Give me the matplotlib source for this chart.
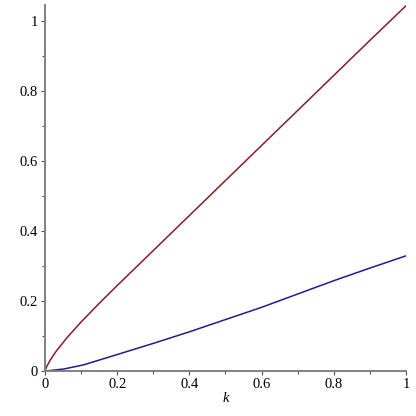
import numpy as np
import matplotlib
matplotlib.use('Agg')
import matplotlib.pyplot as plt
from matplotlib.ticker import MultipleLocator

# values
k_upper = [0.0, 0.005, 0.015, 0.03, 0.06, 0.1, 0.15, 0.2, 0.25,
           0.3, 0.4, 0.5, 0.6, 0.7, 0.8, 0.9, 1.0]
upper = [0.0, 0.013, 0.032, 0.055, 0.094, 0.140, 0.193, 0.244, 0.294,
         0.344, 0.444, 0.544, 0.644, 0.744, 0.844, 0.944, 1.043]

k_lower = [0.0, 0.053, 0.108, 0.19, 0.3, 0.4, 0.5, 0.6, 0.7, 0.8, 0.9, 1.0]
lower = [0.0, 0.006, 0.018, 0.044, 0.079, 0.112, 0.147, 0.182, 0.220, 0.258, 0.294, 0.329]

plt.rcParams['font.family'] = 'serif'
plt.rcParams['font.serif'] = ['Liberation Serif', 'Times New Roman', 'DejaVu Serif']

fig = plt.figure(figsize=(4.16, 4.16), dpi=100)
ax = fig.add_axes([0.108, 0.108, 0.868, 0.880])

ax.plot(k_upper, upper, color='#8c1c22', lw=1.1)
ax.plot(k_lower, lower, color='#1c1f8f', lw=1.1)

ax.set_xlim(0, 1)
ax.set_ylim(0, 1.045)

for s in ['top', 'right']:
    ax.spines[s].set_visible(False)
for s in ['left', 'bottom']:
    ax.spines[s].set_color('#808080')
    ax.spines[s].set_linewidth(1.4)

ax.xaxis.set_major_locator(MultipleLocator(0.2))
ax.xaxis.set_minor_locator(MultipleLocator(0.1))
ax.yaxis.set_major_locator(MultipleLocator(0.2))
ax.yaxis.set_minor_locator(MultipleLocator(0.1))
ax.tick_params(which='both', color='#505050', width=0.8, labelsize=10.5, pad=2)
ax.tick_params(which='major', length=3)
ax.tick_params(which='minor', length=2)


def fmt(v, p):
    if abs(v) < 1e-9:
        return '0'
    if abs(v - 1) < 1e-9:
        return '1'
    return f'{v:.1f}'


ax.xaxis.set_major_formatter(fmt)
ax.yaxis.set_major_formatter(fmt)

ax.set_xlabel('k', style='italic', fontsize=10.5, labelpad=1)

fig.savefig('out.png', dpi=100)
